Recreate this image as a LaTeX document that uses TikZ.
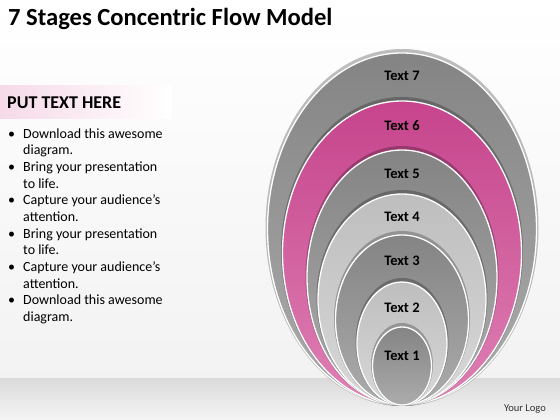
\documentclass[tikz,border=0pt]{standalone}
\usepackage{fontspec}
\setmainfont{Carlito}
\usepackage{tikz}
\usetikzlibrary{shapes.geometric,positioning}
\definecolor{ringGrey}{RGB}{132,132,132}
\definecolor{ringGreyLow}{RGB}{172,172,172}
\definecolor{ringLight}{RGB}{190,190,190}
\definecolor{ringLightLow}{RGB}{216,216,216}
\definecolor{ringPink}{RGB}{198,68,140}
\definecolor{ringPinkLow}{RGB}{222,128,180}
\definecolor{headPink}{RGB}{246,218,232}
\definecolor{floorGrey}{RGB}{218,218,218}

\begin{document}
\begin{tikzpicture}[x=1pt, y=-1pt,
    ring/.style={ellipse, draw=white, line width=1.3pt, inner sep=0pt},
    grey/.style={ring, top color=ringGrey, bottom color=ringGreyLow},
    light/.style={ring, top color=ringLight, bottom color=ringLightLow},
    pink/.style={ring, top color=ringPink, bottom color=ringPinkLow},
    halo/.style={ellipse, fill=black, opacity=0.25, inner sep=0pt},
    lbl/.style={font=\bfseries\fontsize{14.5}{16}\selectfont, text=black}
  ]
  % page and floor
  \useasboundingbox (0,0) rectangle (560,420);
  \shade[top color=white, bottom color=black!5] (0,0) rectangle (560,378);
  \shade[top color=floorGrey, bottom color=black!4] (0,378) rectangle (560,420);
  \shade[left color=headPink, right color=white] (0,86) rectangle (172,118);

  % title and text panel
  \node[anchor=base west, inner sep=0pt, font=\bfseries\fontsize{24.6}{28}\selectfont]
    (title) at (8,26) {7 Stages Concentric Flow Model};
  \node[anchor=base west, inner sep=0pt, font=\bfseries\fontsize{18}{20}\selectfont]
    (head) at (7,109) {PUT TEXT HERE};
  \node[anchor=north west, inner sep=0pt, font=\fontsize{14}{16.67}\selectfont]
    (bullets) at (8,126.4) {%
    \begin{tabular}{@{}p{15pt}@{}l@{}}
      \textbullet & Download this awesome\\
                  & diagram.\\
      \textbullet & Bring your presentation\\
                  & to life.\\
      \textbullet & Capture your audience’s\\
                  & attention.\\
      \textbullet & Bring your presentation\\
                  & to life.\\
      \textbullet & Capture your audience’s\\
                  & attention.\\
      \textbullet & Download this awesome\\
                  & diagram.
    \end{tabular}};

  % concentric stages, all touching at the bottom
  \node[halo,  minimum width=273pt, minimum height=357pt] at (402,227.5) {};
  \node[grey,  minimum width=269pt, minimum height=352pt] (s7) at (402,229) {};
  \node[halo,  minimum width=242pt, minimum height=309pt] at (402,251.5) {};
  \node[pink,  minimum width=239pt, minimum height=304pt] (s6) at (402,253) {};
  \node[halo,  minimum width=193pt, minimum height=260pt] at (402,276) {};
  \node[grey,  minimum width=190pt, minimum height=255pt] (s5) at (402,277.5) {};
  \node[halo,  minimum width=171pt, minimum height=216pt] at (402,298) {};
  \node[light, minimum width=168pt, minimum height=211pt] (s4) at (402,299.5) {};
  \node[halo,  minimum width=136pt, minimum height=175pt] at (402,318.5) {};
  \node[grey,  minimum width=133pt, minimum height=170pt] (s3) at (402,320) {};
  \node[halo,  minimum width=93pt,  minimum height=128pt] at (402,342) {};
  \node[light, minimum width=90pt,  minimum height=123pt] (s2) at (402,343.5) {};
  \node[halo,  minimum width=62pt,  minimum height=83pt]  at (402,364.5) {};
  \node[grey,  minimum width=59pt,  minimum height=78pt]  (s1) at (402,366) {};

  \node[lbl] (t7) at (402,76)  {Text 7};
  \node[lbl] (t6) at (402,126) {Text 6};
  \node[lbl] (t5) at (402,174) {Text 5};
  \node[lbl] (t4) at (402,217) {Text 4};
  \node[lbl] (t3) at (402,261) {Text 3};
  \node[lbl] (t2) at (402,308) {Text 2};
  \node[lbl] (t1) at (402,356) {Text 1};

  \node[anchor=base east, inner sep=0pt, font=\fontsize{10.5}{12}\selectfont, text=black!80]
    (logo) at (546,411) {Your Logo};
\end{tikzpicture}
\end{document}
